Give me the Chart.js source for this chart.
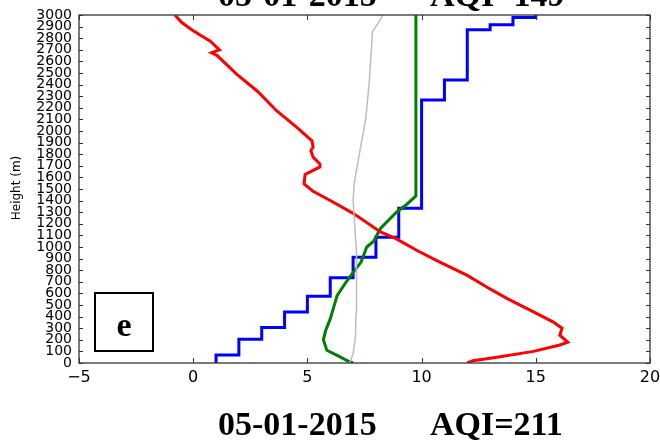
<!DOCTYPE html>
<html>
<head>
<meta charset="utf-8">
<script src="https://cdn.jsdelivr.net/npm/chart.js@4.4.1/dist/chart.umd.min.js"></script>
<style>
    html, body { margin: 0; padding: 0; background: #fff; }
    #wrap { width: 660px; height: 440px; }
</style>
</head>
<body>
<div id="wrap"><canvas id="profile_chart" width="660" height="440"></canvas></div>
<script>
// data (value, height in m)
var red_x = [12.0, 12.25, 13.3, 14.9, 16.05, 16.4, 16.05, 16.15, 15.75, 14.9, 13.75, 12.85, 12.0, 10.8, 9.8, 8.9, 8.2, 7.0, 6.1, 5.25, 4.85, 4.9, 5.55, 5.55, 5.25, 5.15, 5.25, 5.2, 4.55, 3.65, 2.8, 1.9, 1.05, 0.8, 1.15, 0.75, 0.0, -0.5, -0.8];
var red_h = [0, 20, 50, 100, 155, 180, 240, 300, 355, 440, 555, 655, 755, 870, 970, 1070, 1130, 1290, 1390, 1480, 1545, 1625, 1690, 1715, 1775, 1830, 1860, 1915, 2030, 2175, 2345, 2490, 2650, 2675, 2700, 2775, 2865, 2935, 3000];

var blue_x = [1, 2, 3, 4, 5, 6, 7, 8, 9, 10, 11, 12, 13, 14, 15, 15];
var blue_h = [0, 70, 205, 305, 440, 575, 735, 912, 1085, 1335, 2268, 2440, 2872, 2915, 2978, 3000];

var green_x = [7.0, 6.8, 6.3, 5.85, 5.7, 5.8, 6.0, 6.15, 6.3, 6.7, 7.0, 7.35, 7.6, 7.9, 8.2, 8.9, 9.3, 9.75, 9.75];
var green_h = [0, 15, 65, 110, 200, 280, 380, 480, 580, 700, 780, 870, 1000, 1050, 1160, 1300, 1360, 1440, 3000];

var gray_x = [6.85, 7.0, 7.1, 7.13, 7.15, 7.15, 7.05, 7.0, 7.05, 7.3, 7.55, 7.7, 7.75, 7.85, 8.1, 8.3];
var gray_h = [0, 80, 220, 430, 700, 950, 1250, 1400, 1550, 1830, 2100, 2400, 2550, 2860, 2930, 3000];

var x_ticks = [-5, 0, 5, 10, 15, 20];
var panel_label = 'e';
var date_text = '05-01-2015';
var aqi_text = 'AQI=211';
var prev_date_text = '05-01-2015';
var prev_aqi_text = 'AQI=149';
var y_title = 'Height (m)';

function pts(xs, hs) {
    var out = [];
    for (var i = 0; i < xs.length; i++) out.push({x: xs[i], y: hs[i]});
    return out;
}

/* --------------------- рамка, подписи, буква панели --------------------- */

var decor = {
    id: 'decor',
    afterDraw: function (chart) {
        var c = chart.ctx;
        var a = chart.chartArea;
        var sx = chart.scales.x;
        var sy = chart.scales.y;
        c.save();

        // frame
        c.strokeStyle = '#333';
        c.lineWidth = 1.3;
        c.strokeRect(a.left, a.top, a.right - a.left, a.bottom - a.top);

        // inner ticks like matplotlib
        c.lineWidth = 1;
        c.beginPath();
        for (var v = 0; v <= 3000; v += 100) {
            var py = Math.round(sy.getPixelForValue(v)) + 0.5;
            c.moveTo(a.left, py); c.lineTo(a.left + 4, py);
            c.moveTo(a.right, py); c.lineTo(a.right - 4, py);
        }
        for (var i = 0; i < x_ticks.length; i++) {
            var px = Math.round(sx.getPixelForValue(x_ticks[i])) + 0.5;
            c.moveTo(px, a.bottom); c.lineTo(px, a.bottom - 5);
            c.moveTo(px, a.top); c.lineTo(px, a.top + 5);
        }
        c.stroke();

        // panel letter box
        c.strokeStyle = '#000';
        c.lineWidth = 2;
        c.strokeRect(95, 293, 58, 58);
        c.fillStyle = '#000';
        c.font = 'bold 34px "Liberation Serif"';
        c.textAlign = 'center';
        c.textBaseline = 'alphabetic';
        c.fillText(panel_label, 124, 336);

        // y title
        c.save();
        c.translate(20, 188);
        c.rotate(-Math.PI / 2);
        c.font = '12px "DejaVu Sans"';
        c.fillText(y_title, 0, 0);
        c.restore();

        // bottom caption
        c.font = 'bold 34px "Liberation Serif"';
        c.textAlign = 'left';
        c.fillText(date_text, 218, 435);
        c.fillText(aqi_text, 430, 435);

        // caption of the panel above, cut off
        c.fillText(prev_date_text, 218, 6);
        c.fillText(prev_aqi_text, 430, 6);

        c.restore();
    }
};

var ctx = document.getElementById('profile_chart').getContext('2d');
var chart = new Chart(ctx, {
    type: 'scatter',
    data: {
        datasets: [
            {
                label: 'gray',
                data: pts(gray_x, gray_h),
                showLine: true,
                borderColor: '#bdbdbd',
                borderWidth: 1.5,
                pointRadius: 0,
                tension: 0
            },
            {
                label: 'red',
                data: pts(red_x, red_h),
                showLine: true,
                borderColor: '#ff0000',
                borderWidth: 3,
                pointRadius: 0,
                tension: 0
            },
            {
                label: 'green',
                data: pts(green_x, green_h),
                showLine: true,
                borderColor: '#008000',
                borderWidth: 3,
                pointRadius: 0,
                tension: 0
            },
            {
                label: 'blue',
                data: pts(blue_x, blue_h),
                showLine: true,
                stepped: 'after',
                borderColor: '#0000ff',
                borderWidth: 3,
                pointRadius: 0,
                tension: 0
            }
        ]
    },
    options: {
        responsive: false,
        animation: false,
        layout: { padding: { top: 15, right: 10, left: 0, bottom: 0 } },
        plugins: {
            legend: { display: false },
            tooltip: { enabled: false }
        },
        scales: {
            x: {
                type: 'linear',
                min: -5,
                max: 20,
                afterBuildTicks: function (s) {
                    s.ticks = x_ticks.map(function (v) { return {value: v}; });
                },
                afterFit: function (s) {
                    s.height = 77;
                    s.paddingLeft = 0;
                    s.paddingRight = 0;
                },
                grid: { display: false, drawTicks: false },
                border: { display: false },
                ticks: {
                    padding: 5,
                    color: '#000',
                    font: { family: 'DejaVu Sans', size: 16 },
                    callback: function (v) { return v < 0 ? '\u2212' + Math.abs(v) : '' + v; }
                }
            },
            y: {
                type: 'linear',
                min: 0,
                max: 3000,
                afterFit: function (s) {
                    s.width = 79;
                    s.paddingTop = 0;
                    s.paddingBottom = 0;
                },
                grid: { display: false, drawTicks: false },
                border: { display: false },
                ticks: {
                    stepSize: 100,
                    autoSkip: false,
                    padding: 7,
                    color: '#000',
                    font: { family: 'DejaVu Sans', size: 14, lineHeight: 1 },
                    callback: function (v) { return '' + v; }
                }
            }
        }
    },
    plugins: [decor]
});
</script>
</body>
</html>
